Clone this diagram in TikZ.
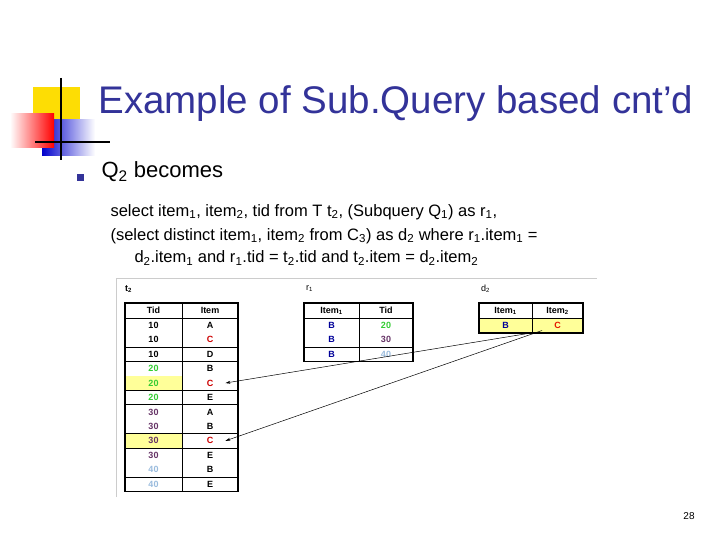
\documentclass[tikz,border=0pt]{standalone}
\usepackage{fontspec}
\setmainfont{Liberation Sans}
\usetikzlibrary{arrows.meta,calc}
\definecolor{ttl}{HTML}{333399}
\definecolor{cgreen}{HTML}{33CC33}
\definecolor{cpurp}{HTML}{663366}
\definecolor{clblue}{HTML}{99BBDD}
\definecolor{cred}{HTML}{CC0000}
\definecolor{cblue}{HTML}{000099}
\definecolor{hl}{HTML}{FFFF99}
\begin{document}
\begin{tikzpicture}[x=1pt,y=-1pt,
  cell/.style={font=\fontsize{9}{10}\selectfont\bfseries, inner sep=0pt},
  tbl/.style={line width=1.2pt},
  sep/.style={line width=0.5pt},
  conn/.style={-{Stealth[length=5pt,width=3pt]}, line width=0.5pt}]
\useasboundingbox (0,0) rectangle (720,540);
% decoration
\fill[yellow!80!orange] (33,87) rectangle (80,121);
\shade[left color=blue!80!black, right color=white] (42,120) rectangle (95,156);
\shade[left color=white, right color=red] (10,114) rectangle (54,148);
\draw[line width=1.5pt] (61,78) -- (61,160);
\draw[line width=1.5pt] (35,142) -- (110,142);
\node[anchor=west, text=ttl, font=\fontsize{38.5}{42}\selectfont] (title) at (95,104) {Example of Sub.Query based cnt’d};
\fill[ttl] (77,174) rectangle (84,181);
\node[anchor=west, font=\fontsize{22}{25}\selectfont] (q2) at (98,172) {Q\textsubscript{2} becomes};
\node[anchor=west, font=\fontsize{16.5}{20}\selectfont] (l1) at (107,212) {select item\textsubscript{1}, item\textsubscript{2}, tid from T t\textsubscript{2}, (Subquery Q\textsubscript{1}) as r\textsubscript{1},};
\node[anchor=west, font=\fontsize{16.5}{20}\selectfont] (l2) at (107,236) {(select distinct item\textsubscript{1}, item\textsubscript{2} from C\textsubscript{3}) as d\textsubscript{2} where r\textsubscript{1}.item\textsubscript{1} =};
\node[anchor=west, font=\fontsize{16.5}{20}\selectfont] (l3) at (131,258) {d\textsubscript{2}.item\textsubscript{1} and r\textsubscript{1}.tid = t\textsubscript{2}.tid and t\textsubscript{2}.item = d\textsubscript{2}.item\textsubscript{2}};
% frame
\draw[gray!40, line width=0.8pt] (116,497) -- (116,278) -- (597,278);
% labels
\node[cell, anchor=west] (lt2) at (125,289) {t\textsubscript{2}};
\node[anchor=west, inner sep=0pt, font=\fontsize{9}{10}\selectfont] (lr1) at (306,289) {r\textsubscript{1}};
\node[anchor=west, inner sep=0pt, font=\fontsize{9}{10}\selectfont] (ld2) at (481,289) {d\textsubscript{2}};
% t2 table
\def\rh{14.45}
\fill[hl] (125,{318+4*\rh}) rectangle (182,{318+5*\rh});
\fill[hl] (125,{318+8*\rh}) rectangle (182,{318+9*\rh});
\node[cell] (t2h1) at (153.5,310.5) {Tid};
\node[cell] (t2h2) at (210,310.5) {Item};
\foreach \i/\t/\tc/\it/\ic in {1/10/black/A/black,2/10/black/C/cred,3/10/black/D/black,4/20/cgreen/B/black,5/20/cgreen/C/cred,6/20/cgreen/E/black,7/30/cpurp/A/black,8/30/cpurp/B/black,9/30/cpurp/C/cred,10/30/cpurp/E/black,11/40/clblue/B/black,12/40/clblue/E/black}{
  \node[cell, text=\tc] (t2t\i) at (153.5,{318+(\i-0.5)*\rh}) {\t};
  \node[cell, text=\ic] (t2i\i) at (210,{318+(\i-0.5)*\rh}) {\it};
}
\draw[tbl] (125,303) rectangle (238,{318+12*\rh});
\draw[sep] (182,303) -- (182,{318+12*\rh});
\draw[sep] (125,318) -- (238,318);
\foreach \k in {2,3,5,6,8,9,11}{\draw[sep] (125,{318+\k*\rh}) -- (238,{318+\k*\rh});}
% r1 table
\node[cell] (r1h1) at (331.5,310.5) {Item\textsubscript{1}};
\node[cell] (r1h2) at (386,310.5) {Tid};
\foreach \i/\t/\tc in {1/20/cgreen,2/30/cpurp,3/40/clblue}{
  \node[cell, text=cblue] (r1a\i) at (331.5,{318+(\i-0.5)*\rh}) {B};
  \node[cell, text=\tc] (r1b\i) at (386,{318+(\i-0.5)*\rh}) {\t};
}
\draw[tbl] (304,303) rectangle (413,{318+3*\rh});
\draw[sep] (359,303) -- (359,{318+3*\rh});
\draw[sep] (304,318) -- (413,318);
\draw[sep] (304,{318+2*\rh}) -- (413,{318+2*\rh});
% d2 table
\fill[hl] (479,318) rectangle (583,333);
\node[cell] (d2h1) at (505.5,310.5) {Item\textsubscript{1}};
\node[cell] (d2h2) at (557.5,310.5) {Item\textsubscript{2}};
\node[cell, text=cblue] (d2b) at (505.5,325.5) {B};
\node[cell, text=red!80!orange!90!black] (d2c) at (557.5,325.5) {C};
\draw[tbl] (479,303) rectangle (583,333);
\draw[sep] (532,303) -- (532,333);
\draw[sep] (479,318) -- (583,318);
% arrows
\draw[conn] ($(d2c.west)+(-20,7)$) -- ($(t2i5.east)+(12,0)$);
\draw[conn] ($(d2c.west)+(-12,5)$) -- ($(t2i9.east)+(12,0)$);
\node[font=\fontsize{10}{12}\selectfont] (pg) at (689,516) {28};
\end{tikzpicture}
\end{document}
